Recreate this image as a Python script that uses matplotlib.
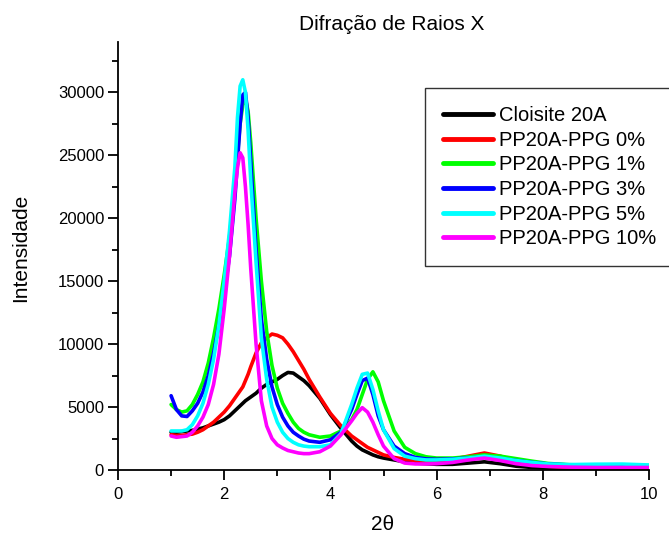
import matplotlib
matplotlib.use('Agg')
import matplotlib.pyplot as plt
from matplotlib.ticker import MultipleLocator

plt.rcParams['font.family'] = ['Liberation Sans', 'DejaVu Sans']

# 2theta positions (shared by all series)
two_theta = [1.0, 1.1, 1.2, 1.3, 1.4, 1.5, 1.6, 1.7, 1.8, 1.9, 2.0, 2.1, 2.2, 2.25, 2.3,
             2.35, 2.4, 2.45, 2.5, 2.6, 2.7, 2.8, 2.9, 3.0, 3.1, 3.2, 3.3, 3.4, 3.5, 3.6,
             3.8, 4.0, 4.2, 4.4, 4.5, 4.6, 4.7, 4.8, 4.9, 5.0, 5.2, 5.4, 5.6, 5.8, 6.0,
             6.3, 6.6, 6.9, 7.2, 7.5, 7.8, 8.1, 8.5, 9.0, 9.5, 10.0]

cloisite = [3000, 3000, 3050, 3100, 3150, 3250, 3350, 3500, 3650, 3800, 4000, 4300, 4700, 4900, 5100,
            5300, 5500, 5650, 5800, 6100, 6500, 6800, 7000, 7200, 7500, 7750, 7700, 7400, 7100, 6700,
            5700, 4400, 3300, 2300, 1900, 1600, 1400, 1200, 1050, 950, 800, 650, 550, 500, 450,
            450, 550, 650, 500, 300, 200, 150, 120, 100, 100, 100]

ppg0 = [2800, 2750, 2750, 2800, 2850, 3000, 3200, 3500, 3800, 4200, 4600, 5100, 5700, 6000, 6300,
        6600, 7100, 7600, 8200, 9300, 10100, 10500, 10800, 10700, 10500, 10000, 9400, 8700, 8000, 7200,
        5800, 4500, 3500, 2700, 2400, 2100, 1800, 1600, 1400, 1200, 1000, 850, 750, 700, 700,
        850, 1100, 1350, 1100, 700, 450, 300, 200, 150, 120, 100]

ppg1 = [5200, 4800, 4600, 4700, 5200, 6000, 7000, 8500, 10500, 12800, 15500, 18500, 22500, 25000, 27500,
        29000, 29500, 28500, 26000, 20000, 15000, 11000, 8300, 6500, 5300, 4500, 3800, 3300, 3000, 2800,
        2600, 2700, 3100, 4000, 4800, 6000, 7200, 7800, 7000, 5500, 3100, 1800, 1300, 1050, 950,
        950, 1050, 1200, 1100, 900, 700, 520, 420, 380, 360, 350]

ppg3 = [5900, 4800, 4300, 4250, 4700, 5300, 6200, 7500, 9300, 11500, 14000, 17000, 21500, 24500, 27500,
        29800, 30000, 28000, 24500, 17500, 12000, 8800, 6600, 5200, 4200, 3500, 3000, 2700, 2450, 2300,
        2200, 2400, 3000, 4800, 6000, 7100, 7300, 6000, 4300, 3200, 1900, 1300, 1000, 880, 850,
        880, 950, 1050, 900, 750, 600, 480, 400, 350, 330, 320]

ppg5 = [3100, 3100, 3100, 3200, 3600, 4300, 5300, 6800, 8800, 11500, 15000, 19000, 24000, 28000, 30500,
        31000, 30000, 27000, 23000, 16500, 10500, 7200, 5000, 3800, 3000, 2500, 2200, 2000, 1900, 1850,
        1850, 2000, 2900, 5200, 6500, 7600, 7700, 6400, 4700, 3200, 1700, 1100, 900, 800, 800,
        850, 950, 1100, 950, 750, 600, 480, 430, 460, 470, 400]

ppg10 = [2700, 2600, 2650, 2700, 3000, 3500, 4200, 5200, 6800, 9200, 12800, 17000, 22000, 24000, 25200,
         24800, 22500, 19500, 16000, 10000, 5500, 3500, 2500, 2000, 1750, 1550, 1450, 1350, 1300, 1300,
         1450, 1900, 2800, 3900, 4500, 4950, 4600, 3800, 2800, 1900, 900, 550, 480, 480, 500,
         600, 800, 950, 750, 500, 350, 280, 230, 200, 200, 200]

series = [cloisite, ppg0, ppg1, ppg3, ppg5, ppg10]
labels = ['Cloisite 20A', 'PP20A-PPG 0%', 'PP20A-PPG 1%', 'PP20A-PPG 3%',
          'PP20A-PPG 5%', 'PP20A-PPG 10%']
colors = ['#000000', '#ff0000', '#00ff00', '#0000ff', '#00ffff', '#ff00ff']

fig = plt.figure(figsize=(6.69, 5.33), dpi=100)
ax = fig.add_axes([118/669, 63/533, 531/669, 428/533])

for y, lab, c in zip(series, labels, colors):
    ax.plot(two_theta, y, color=c, lw=2.6, label=lab, solid_capstyle='round')

ax.set_xlim(0, 10)
ax.set_ylim(0, 34000)
ax.xaxis.set_major_locator(MultipleLocator(2))
ax.xaxis.set_minor_locator(MultipleLocator(1))
ax.yaxis.set_major_locator(MultipleLocator(5000))
ax.yaxis.set_minor_locator(MultipleLocator(2500))
ax.spines['top'].set_visible(False)
ax.spines['right'].set_visible(False)
for s in ['left', 'bottom']:
    ax.spines[s].set_linewidth(1.3)
ax.tick_params(which='major', direction='out', length=7, width=1.3, labelsize=12, pad=3)
ax.tick_params(axis='x', which='major', pad=5)
ax.tick_params(which='minor', direction='out', length=4, width=1.3)

# axis titles placed in figure pixels like the original
fig.text(383/669, 1 - 524/533, '2θ', fontsize=15, ha='center', va='center')
fig.text(21/669, 1 - 248/533, 'Intensidade', fontsize=15, ha='center', va='center',
         rotation=90)
fig.text(392/669, 1 - 24/533, 'Difração de Raios X', fontsize=15, ha='center', va='center')

leg = ax.legend(loc='upper left', bbox_to_anchor=(425/669, 1 - 88/533),
                bbox_transform=fig.transFigure, fontsize=14.5, frameon=True,
                fancybox=False, handlelength=2.5, handletextpad=0.25,
                labelspacing=0.28, borderpad=0.9, borderaxespad=0)
leg.get_frame().set_edgecolor('black')
leg.get_frame().set_linewidth(1.0)
for line in leg.get_lines():
    line.set_linewidth(3.5)

fig.savefig('out.png', dpi=100)
